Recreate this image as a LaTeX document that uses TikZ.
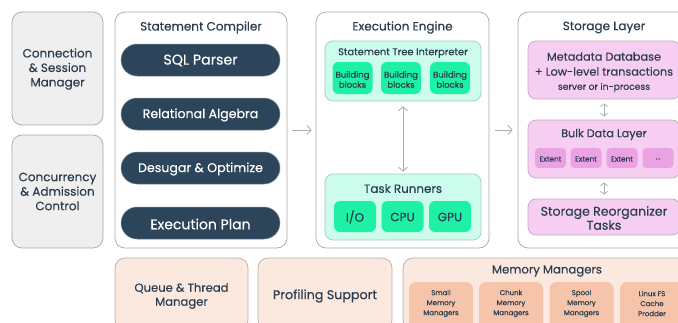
\documentclass[tikz,border=0pt]{standalone}
\usepackage{fontspec}
\setmainfont{Poppins}[FakeBold=0.4]
\usetikzlibrary{arrows.meta}
\definecolor{edge}{HTML}{A3A8AD}
\definecolor{ink}{HTML}{2B3D4F}
\definecolor{pillc}{HTML}{2C455A}
\definecolor{grayfill}{HTML}{EFEFEF}
\definecolor{mint}{HTML}{CCFCEC}
\definecolor{mintedge}{HTML}{A3CBBE}
\definecolor{green}{HTML}{1EF0A6}
\definecolor{pink}{HTML}{F6CEF1}
\definecolor{pinkedge}{HTML}{C7A8C4}
\definecolor{pinkdark}{HTML}{EBA2E3}
\definecolor{peach}{HTML}{FBE8DF}
\definecolor{peachedge}{HTML}{BBABA3}
\definecolor{peachdark}{HTML}{F5C4AA}
\definecolor{arrowc}{HTML}{A8ADB2}
\begin{document}
\begin{tikzpicture}[x=1pt,y=-1pt,
  box/.style={draw=edge, line width=0.7pt, rounded corners=10pt, inner sep=0pt, align=center, text=ink},
  graybox/.style={box, fill=grayfill, font=\fontsize{12}{14.5}\selectfont},
  outer/.style={box, fill=white},
  title/.style={text=ink, inner sep=0pt, yshift=-1.5pt, font=\fontsize{12}{13}\selectfont},
  pill/.style={fill=pillc, draw=edge!70!pillc, line width=0.5pt, rounded corners=16pt, minimum width=159, minimum height=32, text=white, inner sep=0pt},
  ptext/.style={text=white, inner sep=0pt, yshift=-1.5pt},
  mintbox/.style={box, fill=mint, draw=mintedge, rounded corners=8pt},
  greenbox/.style={fill=green, rounded corners=6pt, inner sep=0pt, align=center, text=ink},
  pinkbox/.style={box, fill=pink, draw=pinkedge, rounded corners=8pt},
  extent/.style={fill=pinkdark, rounded corners=4pt, inner sep=0pt, minimum width=31, minimum height=20, text=ink, font=\fontsize{7.3}{8}\selectfont},
  peachbox/.style={box, fill=peach, draw=peachedge, font=\fontsize{11.6}{14}\selectfont},
  mem/.style={fill=peachdark, rounded corners=7pt, inner sep=0pt, minimum width=64, minimum height=48},
  memtext/.style={text=ink, align=center, inner sep=0pt, font=\fontsize{7}{10}\selectfont},
  arr/.style={draw=arrowc, line width=0.8pt, -{Straight Barb[length=4pt,width=9pt]}},
  darr/.style={draw=arrowc, line width=0.8pt, {Straight Barb[length=4pt,width=9pt]}-{Straight Barb[length=4pt,width=9pt]}},
  sdarr/.style={draw=arrowc, line width=0.7pt, {Straight Barb[length=3pt,width=7pt]}-{Straight Barb[length=3pt,width=7pt]}}
]
\useasboundingbox (0,0) rectangle (678,322);
\clip (0,0) rectangle (678,322);

% left column
\node[graybox, minimum width=91, minimum height=113] (conn) at (57.5,68.5) {};
\node[title, align=center, font=\fontsize{12}{14.5}\selectfont] (connt) at (57.5,67.5) {Connection\\\& Session\\Manager};
\node[graybox, minimum width=91, minimum height=113] (conc) at (57.5,191.5) {};
\node[title, align=center, font=\fontsize{12}{14.5}\selectfont] (conct) at (57.5,190) {Concurrency\\\& Admission\\Control};

% statement compiler
\node[outer, minimum width=172, minimum height=236] (comp) at (201,130) {};
\node[title] (compt) at (201,26) {Statement Compiler};
\node[pill] (sql) at (200.5,60) {};
\node[ptext, font=\fontsize{14.2}{15}\selectfont] (sqlt) at (200.5,59) {SQL Parser};
\node[pill] (rel) at (200.5,114) {};
\node[ptext, font=\fontsize{12.6}{14}\selectfont] (relt) at (200.5,113.5) {Relational Algebra};
\node[pill] (des) at (200.5,168) {};
\node[ptext, font=\fontsize{12.6}{14}\selectfont] (dest) at (200.5,167.5) {Desugar \& Optimize};
\node[pill] (plan) at (200.5,223) {};
\node[ptext, font=\fontsize{14}{15}\selectfont] (plant) at (200.5,222.5) {Execution Plan};

% execution engine
\node[outer, minimum width=173, minimum height=236] (eng) at (402.5,130) {};
\node[title] (engt) at (402.5,26) {Execution Engine};
\node[mintbox, minimum width=156, minimum height=60] (sti) at (403,71) {};
\node[title, font=\fontsize{9.8}{10}\selectfont] (stit) at (403,51.5) {Statement Tree Interpreter};
\node[greenbox, minimum width=40, minimum height=32] (bb1) at (352.5,78) {};
\node[greenbox, minimum width=40, minimum height=32] (bb2) at (401,78) {};
\node[greenbox, minimum width=40, minimum height=32] (bb3) at (450,78) {};
\node[title, align=center, font=\fontsize{8.5}{10}\selectfont] (bb1t) at (352.5,78) {Building\\blocks};
\node[title, align=center, font=\fontsize{8.5}{10}\selectfont] (bb2t) at (401,78) {Building\\blocks};
\node[title, align=center, font=\fontsize{8.5}{10}\selectfont] (bb3t) at (450,78) {Building\\blocks};
\node[mintbox, minimum width=156, minimum height=66] (tr) at (403,207) {};
\node[title, font=\fontsize{11.9}{12}\selectfont] (trt) at (403,187) {Task Runners};
\node[greenbox, minimum width=42, minimum height=31] (io) at (355,216.5) {};
\node[greenbox, minimum width=42, minimum height=31] (cpu) at (402.5,216.5) {};
\node[greenbox, minimum width=42, minimum height=31] (gpu) at (450,216.5) {};
\node[title, font=\fontsize{12}{13}\selectfont] (iot) at (355,215.5) {I/O};
\node[title, font=\fontsize{12}{13}\selectfont] (cput) at (402.5,215.5) {CPU};
\node[title, font=\fontsize{12}{13}\selectfont] (gput) at (450,215.5) {GPU};

% storage layer
\node[outer, minimum width=172, minimum height=236] (stor) at (604,130) {};
\node[title] (stort) at (604,26) {Storage Layer};
\node[pinkbox, minimum width=152, minimum height=58] (meta) at (604,70) {};
\node[title, align=center, font=\fontsize{11.3}{15}\selectfont] (metat) at (604,62.5) {Metadata Database\\+ Low-level transactions};
\node[title, font=\fontsize{9.2}{10}\selectfont] (metas) at (604,86) {server or in-process};
\node[pinkbox, minimum width=152, minimum height=58] (bulk) at (604,149) {};
\node[title, font=\fontsize{11.2}{12}\selectfont] (bulkt) at (604,133) {Bulk Data Layer};
\node[extent] (e1) at (550.5,158) {};
\node[extent] (e2) at (586,158) {};
\node[extent] (e3) at (622,158) {};
\node[extent] (e4) at (658,158) {};
\node[title, font=\fontsize{7.3}{8}\selectfont] (e1t) at (550.5,157.5) {Extent};
\node[title, font=\fontsize{7.3}{8}\selectfont] (e2t) at (586,157.5) {Extent};
\node[title, font=\fontsize{7.3}{8}\selectfont] (e3t) at (622,157.5) {Extent};
\node[title, font=\fontsize{7.3}{8}\selectfont] (e4t) at (658,157.5) {...};
\node[pinkbox, minimum width=152, minimum height=36] (reorg) at (604,217) {};
\node[title, align=center, font=\fontsize{12.5}{14}\selectfont] (reorgt) at (604,216.5) {Storage Reorganizer\\Tasks};

% bottom row
\node[peachbox, minimum width=133, minimum height=72] (queue) at (181.5,294) {};
\node[title, align=center, font=\fontsize{11.6}{14}\selectfont] (queuet) at (181.5,294.5) {Queue \& Thread\\Manager};
\node[peachbox, minimum width=134, minimum height=72] (prof) at (325,294) {};
\node[title, font=\fontsize{12.7}{14}\selectfont] (proft) at (325,294.5) {Profiling Support};
\node[peachbox, minimum width=288, minimum height=72] (memm) at (547,294) {};
\node[title, font=\fontsize{11.7}{13}\selectfont] (memt) at (547,269.5) {Memory Managers};
\node[mem] (m1) at (441,306) {};
\node[mem] (m2) at (511,306) {};
\node[mem] (m3) at (581.5,306) {};
\node[mem] (m4) at (652,306) {};
\node[title, align=center, font=\fontsize{7}{10}\selectfont] (m1t) at (441,302) {Small\\Memory\\Managers};
\node[title, align=center, font=\fontsize{7}{10}\selectfont] (m2t) at (511,302) {Chunk\\Memory\\Managers};
\node[title, align=center, font=\fontsize{7}{10}\selectfont] (m3t) at (581.5,302) {Spool\\Memory\\Managers};
\node[title, align=center, font=\fontsize{7}{10}\selectfont] (m4t) at (652,302) {Linux FS\\Cache\\Prodder};

% arrows
\draw[arr, shorten <=5pt, shorten >=4pt] (comp.east) -- (eng.west);
\draw[arr, shorten <=6pt, shorten >=5pt] (eng.east) -- (stor.west);
\draw[darr, shorten <=5pt, shorten >=2pt] (sti.south) -- (tr.north);
\draw[sdarr, shorten <=4pt, shorten >=3pt] (meta.south) -- (bulk.north);
\draw[sdarr, shorten <=4pt, shorten >=4pt] (bulk.south) -- (reorg.north);
\end{tikzpicture}
\end{document}
